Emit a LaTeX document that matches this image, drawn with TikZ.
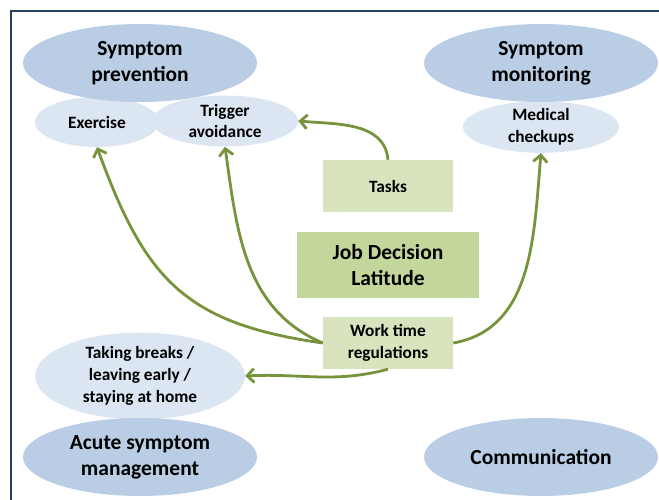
\documentclass[tikz,border=0pt]{standalone}
\usepackage{fontspec}
\setmainfont{Carlito}
\usepackage{xcolor}
\usetikzlibrary{arrows.meta, shapes.geometric}
\definecolor{topicBlue}{HTML}{B9CDE5}
\definecolor{subBlue}{HTML}{DCE6F2}
\definecolor{factorGreen}{HTML}{D7E4BD}
\definecolor{mainGreen}{HTML}{C3D69B}
\definecolor{arrowGreen}{HTML}{77933C}
\definecolor{frameBlue}{HTML}{243F60}
\tikzset{
    topic/.style={ellipse, draw=none, fill=topicBlue, inner sep=0pt, minimum width=234pt, minimum height=78pt, align=center, font=\fontsize{21.5}{26}\selectfont\bfseries},
    subTopic/.style={ellipse, draw=none, fill=subBlue, inner sep=0pt, minimum height=50pt, align=center, font=\fontsize{17.3}{21.7}\selectfont\bfseries},
    factor/.style={rectangle, draw=none, fill=factorGreen, minimum width=130pt, minimum height=52pt, align=center, font=\fontsize{17.3}{21.7}\selectfont\bfseries},
    mainFactor/.style={rectangle, draw=none, fill=mainGreen, minimum width=182pt, minimum height=66pt, align=center, font=\fontsize{21.5}{26}\selectfont\bfseries},
    arrow/.style={-{Straight Barb[length=7pt, width=14pt]}, line width=2.8pt, draw=arrowGreen}
}

\begin{document}
\begin{tikzpicture}[x=1pt, y=1pt]
        \useasboundingbox (0,0) rectangle (659,-500);
        % Frame
        \draw[frameBlue, line width=1.6pt] (659,-11) -- (11,-11) -- (11,-500);

        % Sub topics
        \node[subTopic, minimum width=124pt] (exercise) at (97,-122) {Exercise};
        \node[subTopic, minimum width=146pt, minimum height=51pt] (trigger) at (225,-121) {Trigger\\avoidance};
        \node[subTopic, minimum width=156pt] (checkups) at (541,-127) {Medical\\checkups};
        \node[subTopic, minimum width=210pt, minimum height=87pt] (breaks) at (140,-376) {Taking breaks /\\leaving early /\\staying at home};

        % Topics
        \node[topic] (prevention) at (140,-63) {Symptom\\prevention};
        \node[topic] (monitoring) at (541,-63) {Symptom\\monitoring};
        \node[topic] (acute) at (140,-457) {Acute symptom\\management};
        \node[topic] (communication) at (541,-457) {Communication};

        % Factors
        \node[factor] (tasks) at (388,-186) {Tasks};
        \node[mainFactor] (latitude) at (388,-265) {Job Decision\\Latitude};
        \node[factor] (worktime) at (388,-343) {Work time\\regulations};

        % Arrows
        \draw[arrow] (tasks.north) to[out=95, in=-5] (trigger.east);
        \draw[arrow] (worktime.west) to[out=172, in=-70, looseness=1.2] (exercise.south);
        \draw[arrow] (worktime.west) to[out=157, in=-82] (trigger.south);
        \draw[arrow] (worktime.east) to[out=10, in=-95] (checkups.south);
        \draw[arrow] (worktime.south) to[out=-165, in=3] (breaks.east);
    \end{tikzpicture}
\end{document}
